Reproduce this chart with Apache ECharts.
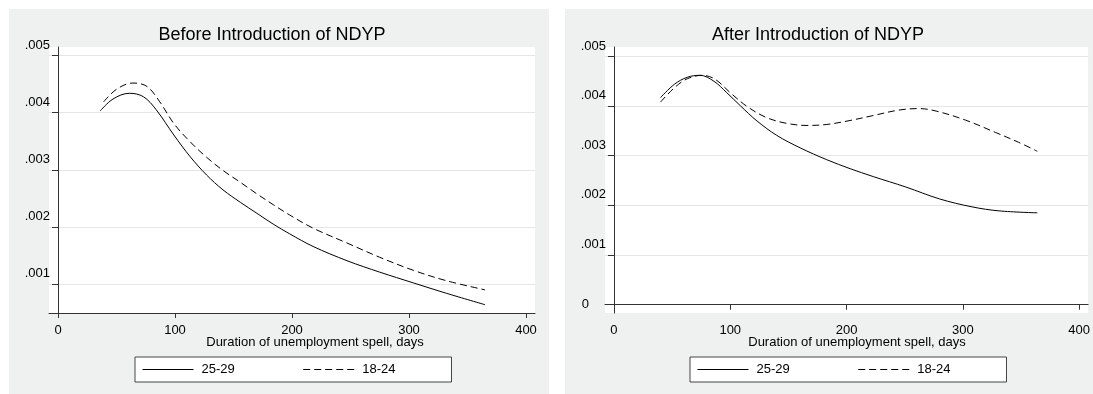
<!DOCTYPE html>
<html>
<head>
<meta charset="utf-8">
<script src="https://cdn.jsdelivr.net/npm/echarts@6/dist/echarts.min.js"></script>
<style>
  html, body { margin: 0; padding: 0; background: #fff; }
  #chart { width: 1093px; height: 394px; }
</style>
</head>
<body>
<div id="chart"></div>
<script>
// hazard estimates (x = days, y = rate)
const daysBefore2529 = [36, 47, 61, 73, 84, 99, 113, 127, 141, 156, 170, 184, 198, 218, 247, 275, 304, 332, 365];
const rateBefore2529 = [0.00403, 0.00424, 0.00434, 0.00428, 0.00405, 0.00361, 0.00323, 0.00291, 0.00265, 0.00243, 0.00224, 0.00205, 0.00188, 0.00166, 0.00141, 0.00121, 0.00102, 0.00084, 0.00064];

const daysBefore1824 = [39, 50, 64, 76, 87, 99, 113, 127, 141, 156, 170, 184, 198, 218, 247, 275, 304, 332, 365];
const rateBefore1824 = [0.00419, 0.00441, 0.00452, 0.00446, 0.00419, 0.00381, 0.00349, 0.00322, 0.00299, 0.00278, 0.00258, 0.00239, 0.00221, 0.00198, 0.00172, 0.00147, 0.00124, 0.00106, 0.00090];

const daysAfter2529 = [40, 52, 63, 74, 86, 97, 109, 123, 140, 160, 183, 203, 223, 251, 280, 308, 331, 364];
const rateAfter2529 = [0.00417, 0.00444, 0.00458, 0.00462, 0.00450, 0.00427, 0.00400, 0.00370, 0.00341, 0.00316, 0.00292, 0.00274, 0.00258, 0.00237, 0.00213, 0.00197, 0.00189, 0.00185];

const daysAfter1824 = [40, 52, 63, 76, 87, 100, 114, 131, 149, 166, 183, 203, 223, 245, 262, 277, 302, 328, 348, 364];
const rateAfter1824 = [0.00408, 0.00437, 0.00455, 0.00462, 0.00454, 0.00427, 0.00400, 0.00377, 0.00365, 0.00361, 0.00363, 0.00371, 0.00381, 0.00392, 0.00395, 0.00390, 0.00372, 0.00347, 0.00327, 0.00309];

const xTicks = [0, 100, 200, 300, 400];
const yTicksBefore = [0.001, 0.002, 0.003, 0.004, 0.005];
const yTicksAfter = [0, 0.001, 0.002, 0.003, 0.004, 0.005];
const groups = ['25-29', '18-24'];

const FONT = '"Liberation Sans", Arial, sans-serif';
const AXIS = '#333';
const GRID = '#e4e6e6';
const PANEL = '#eff1f1';

const zip = (xs, ys) => xs.map((x, i) => [x, ys[i]]);

const fmtY = (v) => (Math.abs(v) < 1e-9 ? '{z|0}' : '{d|' + v.toFixed(3).replace(/^0/, '') + '}');

function xAxisFor(gridIndex) {
  return {
    type: 'value',
    gridIndex: gridIndex,
    min: -7.7,
    max: 407.7,
    axisLine: { show: true, lineStyle: { color: AXIS, width: 1 } },
    axisTick: { show: true, length: 5, customValues: xTicks, lineStyle: { color: AXIS } },
    axisLabel: { customValues: xTicks, margin: 11, color: '#000', fontSize: 13, fontFamily: FONT },
    splitLine: { show: false },
  };
}

function yAxisFor(gridIndex, min, max, ticks, gridColors) {
  return {
    type: 'value',
    gridIndex: gridIndex,
    min: min,
    max: max,
    axisLine: { show: true, lineStyle: { color: AXIS, width: 1 } },
    axisTick: { show: true, length: 6, customValues: ticks, lineStyle: { color: AXIS } },
    axisLabel: {
      customValues: ticks,
      margin: -1,
      formatter: fmtY,
      color: '#000',
      fontFamily: FONT,
      fontSize: 13,
      rich: {
        d: { fontSize: 13, fontFamily: FONT, color: '#000', padding: [0, 0, 21, 0] },
        z: { fontSize: 13, fontFamily: FONT, color: '#000', padding: [0, 17, 0, 0] },
      },
    },
    splitLine: { show: true, lineStyle: { color: gridColors, width: 1 } },
  };
}

function lineSeries(name, idx, data, dashed) {
  return {
    name: name,
    type: 'line',
    xAxisIndex: idx,
    yAxisIndex: idx,
    data: data,
    smooth: 0.35,
    symbol: 'none',
    silent: true,
    lineStyle: { color: '#000', width: 1, type: dashed ? [7, 4] : 'solid' },
    itemStyle: { color: '#000' },
  };
}

function legendFor(left) {
  return {
    data: groups,
    left: left,
    top: 357,
    orient: 'horizontal',
    itemWidth: 51,
    itemHeight: 14,
    itemGap: 68,
    padding: [6, 56, 6, 7],
    backgroundColor: '#fff',
    borderColor: '#444',
    borderWidth: 1,
    borderRadius: 0,
    selectedMode: false,
    // hide the marker dot, keep only the line sample
    itemStyle: { opacity: 0, borderWidth: 0 },
    lineStyle: { width: 1 },
    textStyle: { color: '#000', fontSize: 13, fontFamily: FONT, padding: [0, 0, 0, 3] },
  };
}

const chart = echarts.init(document.getElementById('chart'), null, { renderer: 'canvas' });

const option = {
  animation: false,
  backgroundColor: '#fff',
  graphic: [
    { type: 'rect', z: -10, silent: true, shape: { x: 9, y: 9, width: 540, height: 385 }, style: { fill: PANEL } },
    { type: 'rect', z: -10, silent: true, shape: { x: 565, y: 9, width: 528, height: 385 }, style: { fill: PANEL } },
    { type: 'text', x: 272, y: 35, silent: true,
      style: { text: 'Before Introduction of NDYP', font: '18px ' + FONT, fill: '#000', align: 'center', verticalAlign: 'middle' } },
    { type: 'text', x: 818, y: 35, silent: true,
      style: { text: 'After Introduction of NDYP', font: '18px ' + FONT, fill: '#000', align: 'center', verticalAlign: 'middle' } },
    { type: 'text', x: 315, y: 342, silent: true,
      style: { text: 'Duration of unemployment spell, days', font: '13px ' + FONT, fill: '#000', align: 'center', verticalAlign: 'middle' } },
    { type: 'text', x: 857, y: 342, silent: true,
      style: { text: 'Duration of unemployment spell, days', font: '13px ' + FONT, fill: '#000', align: 'center', verticalAlign: 'middle' } },
  ],
  grid: [
    { left: 49, top: 47, width: 486, height: 266, show: true, backgroundColor: '#fff', borderWidth: 0 },
    { left: 605, top: 47, width: 484, height: 266, show: true, backgroundColor: '#fff', borderWidth: 0 },
  ],
  legend: [legendFor(135), legendFor(690)],
  xAxis: [xAxisFor(0), xAxisFor(1)],
  yAxis: [
    yAxisFor(0, 0.000495, 0.00515, yTicksBefore, [GRID]),
    yAxisFor(1, -0.000167, 0.00519, yTicksAfter, ['rgba(0,0,0,0)', GRID, GRID, GRID, GRID, GRID]),
  ],
  series: [
    lineSeries('25-29', 0, zip(daysBefore2529, rateBefore2529), false),
    lineSeries('18-24', 0, zip(daysBefore1824, rateBefore1824), true),
    lineSeries('25-29', 1, zip(daysAfter2529, rateAfter2529), false),
    lineSeries('18-24', 1, zip(daysAfter1824, rateAfter1824), true),
  ],
};

chart.setOption(option);
</script>
</body>
</html>
